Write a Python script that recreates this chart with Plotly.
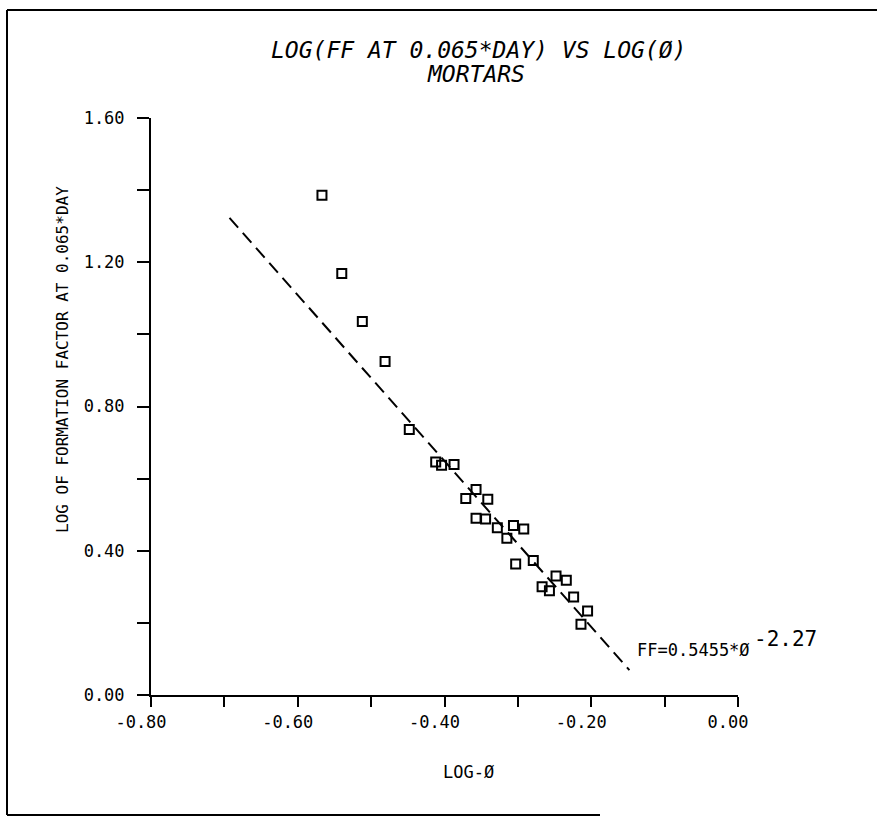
import plotly.graph_objects as go

# ---- data ----
log_phi = [-0.567, -0.540, -0.512, -0.481, -0.448, -0.412, -0.404, -0.387,
           -0.357, -0.371, -0.341, -0.357, -0.344, -0.328, -0.306, -0.292,
           -0.315, -0.279, -0.303, -0.248, -0.234, -0.267, -0.257, -0.224,
           -0.205, -0.214]
log_ff = [1.386, 1.169, 1.036, 0.925, 0.736, 0.646, 0.637, 0.639,
          0.570, 0.545, 0.543, 0.490, 0.488, 0.464, 0.470, 0.460,
          0.435, 0.373, 0.363, 0.330, 0.318, 0.300, 0.289, 0.272,
          0.233, 0.196]
fit_x = [-0.693, -0.148]
fit_y = [1.323, 0.069]

x_ticks = [-0.80, -0.60, -0.40, -0.20, 0.00]
y_ticks = [0.00, 0.40, 0.80, 1.20, 1.60]

W, H = 877, 822
ML, MR, MT, MB = 151, 139, 118, 127
PW, PH = W - ML - MR, H - MT - MB


def px(x):
    return (x - ML) / PW


def py(y):
    return (H - MB - y) / PH


MONO = "DejaVu Sans Mono, Liberation Mono, monospace"

fig = go.Figure()
fig.add_trace(go.Scatter(x=fit_x, y=fit_y, mode="lines",
                         line=dict(color="black", width=2, dash="13px,7px"),
                         hoverinfo="skip", showlegend=False))
fig.add_trace(go.Scatter(x=log_phi, y=log_ff, mode="markers",
                         marker=dict(symbol="square-open", size=9, color="black",
                                     line=dict(width=2, color="black")),
                         showlegend=False))

fig.update_layout(
    width=W, height=H,
    margin=dict(l=ML, r=MR, t=MT, b=MB),
    paper_bgcolor="white", plot_bgcolor="white",
    font=dict(family=MONO, color="black", size=16),
    xaxis=dict(range=[-0.8, 0.0], tickvals=x_ticks,
               ticktext=[f"{v:.2f}" for v in x_ticks],
               ticks="outside", ticklen=10, tickwidth=2, tickcolor="black",
               minor=dict(dtick=0.1, ticks="outside", ticklen=10, tickwidth=2,
                          tickcolor="black", showgrid=False),
               showline=True, linecolor="black", linewidth=2,
               showgrid=False, zeroline=False, ticklabelshift=-10,
               ticklabelstandoff=1,
               tickfont=dict(family=MONO, size=17)),
    yaxis=dict(range=[0.0, 1.6], tickvals=y_ticks,
               ticktext=[f"{v:.2f}" for v in y_ticks],
               ticks="outside", ticklen=12, tickwidth=2, tickcolor="black",
               minor=dict(dtick=0.2, ticks="outside", ticklen=12, tickwidth=2,
                          tickcolor="black", showgrid=False),
               showline=True, linecolor="black", linewidth=2,
               showgrid=False, zeroline=False, ticklabelstandoff=9,
               tickfont=dict(family=MONO, size=17)),
)

annotations = [
    dict(text="<i>LOG(FF AT 0.065*DAY) VS LOG(Ø)</i>", x=px(478), y=py(50),
         font=dict(size=23)),
    dict(text="<i>MORTARS</i>", x=px(476), y=py(74), font=dict(size=23)),
    dict(text="LOG OF FORMATION FACTOR AT 0.065*DAY", x=px(62), y=py(360),
         textangle=-90, font=dict(size=16)),
    dict(text="LOG-Ø", x=px(468), y=py(772), font=dict(size=17)),
    dict(text="FF=0.5455*Ø", x=px(635), y=py(650), xanchor="left",
         font=dict(size=17)),
    dict(text="-2.27", x=px(752), y=py(639), xanchor="left",
         font=dict(size=21)),
]
for a in annotations:
    a.setdefault("xanchor", "center")
    fig.add_annotation(xref="paper", yref="paper", showarrow=False,
                       yanchor="middle", **a)

# scanned page frame
fig.add_shape(type="line", xref="paper", yref="paper", x0=px(7), x1=px(877),
              y0=py(10), y1=py(10), line=dict(color="black", width=2))
fig.add_shape(type="line", xref="paper", yref="paper", x0=px(7), x1=px(7),
              y0=py(10), y1=py(815), line=dict(color="black", width=2))
fig.add_shape(type="line", xref="paper", yref="paper", x0=px(7), x1=px(600),
              y0=py(815), y1=py(815), line=dict(color="black", width=2))

fig.write_html("out.html",
               config={"displayModeBar": False},
               post_script="document.body.style.margin='0';"
                           "document.body.style.overflow='hidden';")
